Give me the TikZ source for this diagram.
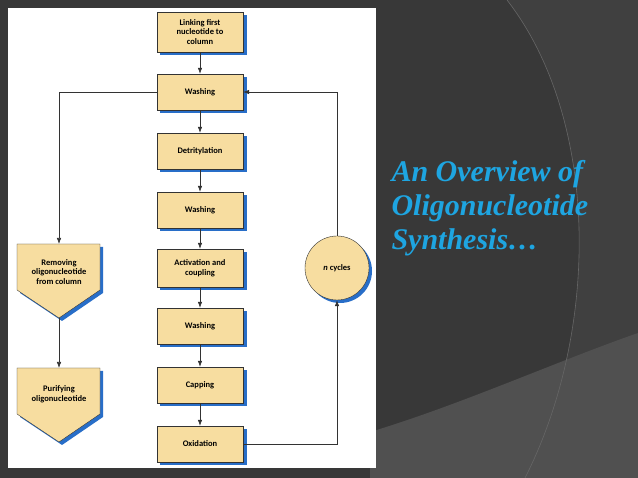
\documentclass[tikz,border=0pt]{standalone}
\usepackage{fontspec}
\setmainfont{Carlito}
\newfontfamily\titlefont{Liberation Serif}
\usetikzlibrary{arrows.meta,shapes.geometric}
\definecolor{bg}{RGB}{56,56,56}
\definecolor{bgm}{RGB}{64,64,64}
\definecolor{bgl}{RGB}{80,80,80}
\definecolor{boxfill}{RGB}{247,221,160}
\definecolor{shad}{RGB}{40,110,200}
\definecolor{ttl}{RGB}{30,165,225}
\tikzset{
 stp/.style={draw=black!80,fill=boxfill,minimum width=86pt,minimum height=36pt,align=center,font=\bfseries\fontsize{8.5}{9.5}\selectfont,inner sep=1pt},
 lbl/.style={font=\bfseries\fontsize{8.5}{9.5}\selectfont,align=center},
 arr/.style={-{Latex[length=6pt,width=4.5pt]},black!80,line width=0.6pt}
}
\begin{document}
\begin{tikzpicture}[x=1pt,y=-1pt]
\useasboundingbox (0,0) rectangle (638,478);
\fill[bg] (0,0) rectangle (638,478);
\fill[bgm] (507,0) .. controls (600,120) and (600,330) .. (525,478) -- (638,478) -- (638,0) -- cycle;
\fill[bgl] (370,432) .. controls (460,405) and (560,360) .. (638,333) -- (638,478) -- (370,478) -- cycle;
\draw[black!60,line width=0.6pt] (507,0) .. controls (600,120) and (600,330) .. (525,478);
\fill[white] (8,8) rectangle (376,468);
% shadows
\foreach \y/\h in {32/40,92/36,151/36,210/36,268/38,326/36,385/36,444/36}{
  \fill[shad] (160,\y-\h/2+3) rectangle (247,\y+\h/2+3);}
\fill[shad] (20,247) -- (103,247) -- (103,293) -- (62,321) -- (20,293) -- cycle;
\fill[shad] (20,371) -- (103,371) -- (103,417) -- (62,445) -- (20,417) -- cycle;
\fill[shad] (340,271) circle (32);
% boxes
\node[stp,minimum height=40pt] (s1) at (200,32) {Linking first\\nucleotide to\\column};
\node[stp] (s2) at (200,92) {Washing};
\node[stp] (s3) at (200,151) {Detritylation};
\node[stp] (s4) at (200,210) {Washing};
\node[stp,minimum height=38pt] (s5) at (200,268) {Activation and\\coupling};
\node[stp] (s6) at (200,326) {Washing};
\node[stp] (s7) at (200,385) {Capping};
\node[stp] (s8) at (200,444) {Oxidation};
\draw[black!80,fill=boxfill] (17,244) -- (100,244) -- (100,290) -- (59,318) -- (17,290) -- cycle;
\node[lbl] (rm) at (59,272) {Removing\\oligonucleotide\\from column};
\coordinate (rmt) at (59,244); \coordinate (rmb) at (59,318);
\draw[black!80,fill=boxfill] (17,368) -- (100,368) -- (100,414) -- (59,442) -- (17,414) -- cycle;
\node[lbl] (pu) at (59,394) {Purifying\\oligonucleotide};
\coordinate (put) at (59,368);
\node[circle,draw=black!80,fill=boxfill,minimum size=64pt,inner sep=0pt,lbl] (cy) at (337,268) {\textit{n} cycles};
% connectors
\foreach \a/\b in {s1/s2,s2/s3,s3/s4,s4/s5,s5/s6,s6/s7,s7/s8}{\draw[arr] (\a) -- (\b);}
\draw[arr] (s8.east) -| (cy.south);
\draw[arr] (cy.north) |- (s2.east);
\draw[arr] (s2.west) -| (rmt);
\draw[arr] (rmb) -- (put);
\node[anchor=west,align=left,text=ttl,font=\titlefont\bfseries\itshape\fontsize{30}{34}\selectfont] (tt) at (388,208) {An Overview of\\Oligonucleotide\\Synthesis\dots};
\end{tikzpicture}
\end{document}
